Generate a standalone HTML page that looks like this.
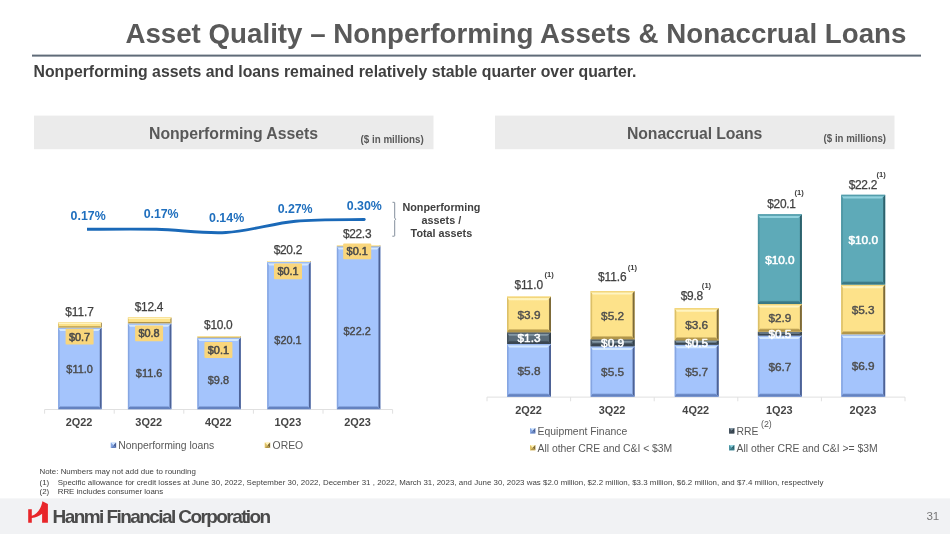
<!DOCTYPE html>
<html lang="en"><head><meta charset="utf-8"><title>Asset Quality – Nonperforming Assets &amp; Nonaccrual Loans</title>
<style>
html,body{margin:0;padding:0;background:#fff;}
body{width:950px;height:534px;overflow:hidden;position:relative;}
svg{position:absolute;left:0;top:0;display:block;font-family:"Liberation Sans",Arial,Helvetica,sans-serif;}
text{white-space:pre;}
</style></head><body>
<svg width="950" height="534" viewBox="0 0 950 534">
<rect width="950" height="534" fill="#fff"/>
<defs>
<linearGradient id="bT" x1="0" y1="0" x2="0" y2="1"><stop offset="0" stop-color="#9cbcf4"/><stop offset="0.3" stop-color="#9cbcf4"/><stop offset="0.55" stop-color="#d3e8ff"/><stop offset="1" stop-color="#d3e8ff"/></linearGradient>
<linearGradient id="bB" x1="0" y1="0" x2="0" y2="1"><stop offset="0" stop-color="#a4c4fc"/><stop offset="0.45" stop-color="#6482bf"/><stop offset="1" stop-color="#6482bf"/></linearGradient>
<linearGradient id="bL" x1="0" y1="0" x2="1" y2="0"><stop offset="0" stop-color="#86a6e2"/><stop offset="0.5" stop-color="#86a6e2"/><stop offset="1" stop-color="#a4c4fc"/></linearGradient>
<linearGradient id="bR" x1="0" y1="0" x2="1" y2="0"><stop offset="0" stop-color="#a4c4fc"/><stop offset="0.3" stop-color="#a4c4fc"/><stop offset="0.6" stop-color="#4d6296"/><stop offset="1" stop-color="#4d6296"/></linearGradient>
<linearGradient id="yT" x1="0" y1="0" x2="0" y2="1"><stop offset="0" stop-color="#f3d67c"/><stop offset="0.3" stop-color="#f3d67c"/><stop offset="0.55" stop-color="#fff4c0"/><stop offset="1" stop-color="#fff4c0"/></linearGradient>
<linearGradient id="yB" x1="0" y1="0" x2="0" y2="1"><stop offset="0" stop-color="#fde28a"/><stop offset="0.45" stop-color="#b3974a"/><stop offset="1" stop-color="#b3974a"/></linearGradient>
<linearGradient id="yL" x1="0" y1="0" x2="1" y2="0"><stop offset="0" stop-color="#dcc068"/><stop offset="0.5" stop-color="#dcc068"/><stop offset="1" stop-color="#fde28a"/></linearGradient>
<linearGradient id="yR" x1="0" y1="0" x2="1" y2="0"><stop offset="0" stop-color="#fde28a"/><stop offset="0.3" stop-color="#fde28a"/><stop offset="0.6" stop-color="#7d6a38"/><stop offset="1" stop-color="#7d6a38"/></linearGradient>
<linearGradient id="sT" x1="0" y1="0" x2="0" y2="1"><stop offset="0" stop-color="#44525e"/><stop offset="0.3" stop-color="#44525e"/><stop offset="0.55" stop-color="#8598a5"/><stop offset="1" stop-color="#8598a5"/></linearGradient>
<linearGradient id="sB" x1="0" y1="0" x2="0" y2="1"><stop offset="0" stop-color="#5a6c79"/><stop offset="0.45" stop-color="#3a4651"/><stop offset="1" stop-color="#3a4651"/></linearGradient>
<linearGradient id="sL" x1="0" y1="0" x2="1" y2="0"><stop offset="0" stop-color="#44525e"/><stop offset="0.5" stop-color="#44525e"/><stop offset="1" stop-color="#5a6c79"/></linearGradient>
<linearGradient id="sR" x1="0" y1="0" x2="1" y2="0"><stop offset="0" stop-color="#5a6c79"/><stop offset="0.3" stop-color="#5a6c79"/><stop offset="0.6" stop-color="#333f49"/><stop offset="1" stop-color="#333f49"/></linearGradient>
<linearGradient id="tT" x1="0" y1="0" x2="0" y2="1"><stop offset="0" stop-color="#549eac"/><stop offset="0.3" stop-color="#549eac"/><stop offset="0.55" stop-color="#92d2de"/><stop offset="1" stop-color="#92d2de"/></linearGradient>
<linearGradient id="tB" x1="0" y1="0" x2="0" y2="1"><stop offset="0" stop-color="#5eaab8"/><stop offset="0.45" stop-color="#3a7884"/><stop offset="1" stop-color="#3a7884"/></linearGradient>
<linearGradient id="tL" x1="0" y1="0" x2="1" y2="0"><stop offset="0" stop-color="#4c94a2"/><stop offset="0.5" stop-color="#4c94a2"/><stop offset="1" stop-color="#5eaab8"/></linearGradient>
<linearGradient id="tR" x1="0" y1="0" x2="1" y2="0"><stop offset="0" stop-color="#5eaab8"/><stop offset="0.3" stop-color="#5eaab8"/><stop offset="0.6" stop-color="#2d616c"/><stop offset="1" stop-color="#2d616c"/></linearGradient>
</defs>
<rect x="0" y="498.4" width="950" height="35.6" fill="#f1f2f4"/>
<text x="125.4" y="43.2" font-size="27.7" font-weight="bold" fill="#595959" textLength="781" lengthAdjust="spacing">Asset Quality – Nonperforming Assets &amp; Nonaccrual Loans</text>
<rect x="32" y="54.6" width="889" height="2" fill="#5f6b78"/>
<text x="33.5" y="76.5" font-size="15.8" font-weight="bold" fill="#404040" textLength="603" lengthAdjust="spacing">Nonperforming assets and loans remained relatively stable quarter over quarter.</text>
<rect x="34" y="115.6" width="399.5" height="33.6" fill="#ebebeb"/>
<rect x="495" y="115.6" width="399.5" height="33.6" fill="#ebebeb"/>
<text x="149" y="138.6" font-size="15.8" font-weight="bold" fill="#595959" textLength="169" lengthAdjust="spacing">Nonperforming Assets</text>
<text x="360.5" y="142.5" font-size="10.7" font-weight="bold" fill="#595959" textLength="63.2" lengthAdjust="spacingAndGlyphs">($ in millions)</text>
<text x="627" y="138.6" font-size="15.8" font-weight="bold" fill="#595959" textLength="135.4" lengthAdjust="spacing">Nonaccrual Loans</text>
<text x="823.6" y="142.3" font-size="10.7" font-weight="bold" fill="#595959" textLength="62.4" lengthAdjust="spacingAndGlyphs">($ in millions)</text>
<path d="M44.6 409.5H392.6" stroke="#e0e0e0" stroke-width="1" fill="none"/>
<path d="M44.6 409.5V413.7" stroke="#e0e0e0" stroke-width="1" fill="none"/>
<path d="M114.2 409.5V413.7" stroke="#e0e0e0" stroke-width="1" fill="none"/>
<path d="M183.8 409.5V413.7" stroke="#e0e0e0" stroke-width="1" fill="none"/>
<path d="M253.4 409.5V413.7" stroke="#e0e0e0" stroke-width="1" fill="none"/>
<path d="M323.0 409.5V413.7" stroke="#e0e0e0" stroke-width="1" fill="none"/>
<path d="M392.6 409.5V413.7" stroke="#e0e0e0" stroke-width="1" fill="none"/>
<rect x="58.15" y="327.60" width="43.50" height="81.60" fill="#a4c4fc"/>
<polygon points="58.15,327.60 60.19,331.00 60.19,405.80 58.15,409.20" fill="url(#bL)"/>
<polygon points="101.65,327.60 98.25,331.00 98.25,405.80 101.65,409.20" fill="url(#bR)"/>
<polygon points="58.15,327.60 101.65,327.60 98.25,331.00 60.19,331.00" fill="url(#bT)"/>
<polygon points="58.15,409.20 101.65,409.20 98.25,405.80 60.19,405.80" fill="url(#bB)"/>
<rect x="58.15" y="322.50" width="43.50" height="5.10" fill="#fde28a"/>
<polygon points="58.15,322.50 59.11,324.10 59.11,326.00 58.15,327.60" fill="url(#yL)"/>
<polygon points="101.65,322.50 100.05,324.10 100.05,326.00 101.65,327.60" fill="url(#yR)"/>
<polygon points="58.15,322.50 101.65,322.50 100.05,324.10 59.11,324.10" fill="url(#yT)"/>
<polygon points="58.15,327.60 101.65,327.60 100.05,326.00 59.11,326.00" fill="url(#yB)"/>
<text x="65.3" y="316.0" font-size="11.9" fill="#404040" textLength="28.6" lengthAdjust="spacing" stroke="#404040" stroke-width="0.25">$11.7</text>
<rect x="65.6" y="328.8" width="28" height="15.8" rx="0.8" fill="#f9d67c"/>
<text x="79.6" y="340.5" font-size="10.9" fill="#4a4a4a" text-anchor="middle" stroke="#4a4a4a" stroke-width="0.55" stroke-linejoin="round">$0.7</text>
<text x="79.6" y="372.7" font-size="10.9" fill="#4a4a4a" text-anchor="middle" stroke="#4a4a4a" stroke-width="0.4" stroke-linejoin="round">$11.0</text>
<text x="79.1" y="426.0" font-size="10.9" font-weight="bold" fill="#454545" text-anchor="middle">2Q22</text>
<rect x="127.90" y="323.30" width="43.50" height="85.90" fill="#a4c4fc"/>
<polygon points="127.90,323.30 129.94,326.70 129.94,405.80 127.90,409.20" fill="url(#bL)"/>
<polygon points="171.40,323.30 168.00,326.70 168.00,405.80 171.40,409.20" fill="url(#bR)"/>
<polygon points="127.90,323.30 171.40,323.30 168.00,326.70 129.94,326.70" fill="url(#bT)"/>
<polygon points="127.90,409.20 171.40,409.20 168.00,405.80 129.94,405.80" fill="url(#bB)"/>
<rect x="127.90" y="317.40" width="43.50" height="5.90" fill="#fde28a"/>
<polygon points="127.90,317.40 128.86,319.00 128.86,321.70 127.90,323.30" fill="url(#yL)"/>
<polygon points="171.40,317.40 169.80,319.00 169.80,321.70 171.40,323.30" fill="url(#yR)"/>
<polygon points="127.90,317.40 171.40,317.40 169.80,319.00 128.86,319.00" fill="url(#yT)"/>
<polygon points="127.90,323.30 171.40,323.30 169.80,321.70 128.86,321.70" fill="url(#yB)"/>
<text x="134.8" y="310.6" font-size="11.9" fill="#404040" textLength="28.6" lengthAdjust="spacing" stroke="#404040" stroke-width="0.25">$12.4</text>
<rect x="135.1" y="325.5" width="28" height="15.8" rx="0.8" fill="#f9d67c"/>
<text x="149.1" y="337.2" font-size="10.9" fill="#4a4a4a" text-anchor="middle" stroke="#4a4a4a" stroke-width="0.55" stroke-linejoin="round">$0.8</text>
<text x="149.1" y="376.5" font-size="10.9" fill="#4a4a4a" text-anchor="middle" stroke="#4a4a4a" stroke-width="0.4" stroke-linejoin="round">$11.6</text>
<text x="148.7" y="426.0" font-size="10.9" font-weight="bold" fill="#454545" text-anchor="middle">3Q22</text>
<rect x="197.35" y="337.60" width="43.50" height="71.60" fill="#a4c4fc"/>
<polygon points="197.35,337.60 199.39,341.00 199.39,405.80 197.35,409.20" fill="url(#bL)"/>
<polygon points="240.85,337.60 237.45,341.00 237.45,405.80 240.85,409.20" fill="url(#bR)"/>
<polygon points="197.35,337.60 240.85,337.60 237.45,341.00 199.39,341.00" fill="url(#bT)"/>
<polygon points="197.35,409.20 240.85,409.20 237.45,405.80 199.39,405.80" fill="url(#bB)"/>
<rect x="197.35" y="336.40" width="43.50" height="1.20" fill="#fde28a"/>
<polygon points="197.35,336.40 198.31,337.00 198.31,337.00 197.35,337.60" fill="url(#yL)"/>
<polygon points="240.85,336.40 239.25,337.00 239.25,337.00 240.85,337.60" fill="url(#yR)"/>
<polygon points="197.35,336.40 240.85,336.40 239.25,337.00 198.31,337.00" fill="url(#yT)"/>
<polygon points="197.35,337.60 240.85,337.60 239.25,337.00 198.31,337.00" fill="url(#yB)"/>
<text x="204.1" y="328.9" font-size="11.9" fill="#404040" textLength="28.6" lengthAdjust="spacing" stroke="#404040" stroke-width="0.25">$10.0</text>
<rect x="204.4" y="342.1" width="28" height="15.8" rx="0.8" fill="#f9d67c"/>
<text x="218.4" y="353.8" font-size="10.9" fill="#4a4a4a" text-anchor="middle" stroke="#4a4a4a" stroke-width="0.55" stroke-linejoin="round">$0.1</text>
<text x="218.4" y="384.3" font-size="10.9" fill="#4a4a4a" text-anchor="middle" stroke="#4a4a4a" stroke-width="0.4" stroke-linejoin="round">$9.8</text>
<text x="218.3" y="426.0" font-size="10.9" font-weight="bold" fill="#454545" text-anchor="middle">4Q22</text>
<rect x="267.20" y="262.00" width="43.50" height="147.20" fill="#a4c4fc"/>
<polygon points="267.20,262.00 269.24,265.40 269.24,405.80 267.20,409.20" fill="url(#bL)"/>
<polygon points="310.70,262.00 307.30,265.40 307.30,405.80 310.70,409.20" fill="url(#bR)"/>
<polygon points="267.20,262.00 310.70,262.00 307.30,265.40 269.24,265.40" fill="url(#bT)"/>
<polygon points="267.20,409.20 310.70,409.20 307.30,405.80 269.24,405.80" fill="url(#bB)"/>
<rect x="267.20" y="261.30" width="43.50" height="0.70" fill="#fde28a"/>
<polygon points="267.20,261.30 268.16,261.65 268.16,261.65 267.20,262.00" fill="url(#yL)"/>
<polygon points="310.70,261.30 309.10,261.65 309.10,261.65 310.70,262.00" fill="url(#yR)"/>
<polygon points="267.20,261.30 310.70,261.30 309.10,261.65 268.16,261.65" fill="url(#yT)"/>
<polygon points="267.20,262.00 310.70,262.00 309.10,261.65 268.16,261.65" fill="url(#yB)"/>
<text x="273.7" y="253.7" font-size="11.9" fill="#404040" textLength="28.6" lengthAdjust="spacing" stroke="#404040" stroke-width="0.25">$20.2</text>
<rect x="274.0" y="263.5" width="28" height="15.8" rx="0.8" fill="#f9d67c"/>
<text x="288.0" y="275.2" font-size="10.9" fill="#4a4a4a" text-anchor="middle" stroke="#4a4a4a" stroke-width="0.55" stroke-linejoin="round">$0.1</text>
<text x="288.0" y="344.4" font-size="10.9" fill="#4a4a4a" text-anchor="middle" stroke="#4a4a4a" stroke-width="0.4" stroke-linejoin="round">$20.1</text>
<text x="287.9" y="426.0" font-size="10.9" font-weight="bold" fill="#454545" text-anchor="middle">1Q23</text>
<rect x="336.85" y="246.20" width="43.50" height="163.00" fill="#a4c4fc"/>
<polygon points="336.85,246.20 338.89,249.60 338.89,405.80 336.85,409.20" fill="url(#bL)"/>
<polygon points="380.35,246.20 376.95,249.60 376.95,405.80 380.35,409.20" fill="url(#bR)"/>
<polygon points="336.85,246.20 380.35,246.20 376.95,249.60 338.89,249.60" fill="url(#bT)"/>
<polygon points="336.85,409.20 380.35,409.20 376.95,405.80 338.89,405.80" fill="url(#bB)"/>
<rect x="336.85" y="245.50" width="43.50" height="0.70" fill="#fde28a"/>
<polygon points="336.85,245.50 337.81,245.85 337.81,245.85 336.85,246.20" fill="url(#yL)"/>
<polygon points="380.35,245.50 378.75,245.85 378.75,245.85 380.35,246.20" fill="url(#yR)"/>
<polygon points="336.85,245.50 380.35,245.50 378.75,245.85 337.81,245.85" fill="url(#yT)"/>
<polygon points="336.85,246.20 380.35,246.20 378.75,245.85 337.81,245.85" fill="url(#yB)"/>
<text x="342.9" y="237.9" font-size="11.9" fill="#404040" textLength="28.6" lengthAdjust="spacing" stroke="#404040" stroke-width="0.25">$22.3</text>
<rect x="343.2" y="243.4" width="28" height="15.8" rx="0.8" fill="#f9d67c"/>
<text x="357.2" y="255.1" font-size="10.9" fill="#4a4a4a" text-anchor="middle" stroke="#4a4a4a" stroke-width="0.55" stroke-linejoin="round">$0.1</text>
<text x="357.2" y="335.1" font-size="10.9" fill="#4a4a4a" text-anchor="middle" stroke="#4a4a4a" stroke-width="0.4" stroke-linejoin="round">$22.2</text>
<text x="357.5" y="426.0" font-size="10.9" font-weight="bold" fill="#454545" text-anchor="middle">2Q23</text>
<path d="M87 229.3C98.6 229.3 133.3 228.8 156.5 229.3C179.7 229.8 202.8 233.8 226 232.5C249.2 231.2 272.5 223.4 295.5 221.2C318.5 219.0 352.8 219.8 364.2 219.5" fill="none" stroke="#1a69b8" stroke-width="2.9" stroke-linecap="butt" stroke-linejoin="round"/>
<circle cx="364.2" cy="219.5" r="1.45" fill="#1a69b8"/>
<text x="70.5" y="219.8" font-size="12.4" font-weight="bold" fill="#1f6fbe" textLength="35.3" lengthAdjust="spacing">0.17%</text>
<text x="143.8" y="217.7" font-size="12.4" font-weight="bold" fill="#1f6fbe" textLength="34.8" lengthAdjust="spacing">0.17%</text>
<text x="209" y="222.4" font-size="12.4" font-weight="bold" fill="#1f6fbe" textLength="35.2" lengthAdjust="spacing">0.14%</text>
<text x="277.8" y="212.8" font-size="12.4" font-weight="bold" fill="#1f6fbe" textLength="34.8" lengthAdjust="spacing">0.27%</text>
<text x="346.8" y="210.0" font-size="12.4" font-weight="bold" fill="#1f6fbe" textLength="35.1" lengthAdjust="spacing">0.30%</text>
<path d="M392.5 202.3H394.2Q394.7 202.3 394.7 202.8V218L395.7 219.2L394.7 220.4V235.7Q394.7 236.2 394.2 236.2H392.3" fill="none" stroke="#6e7b8a" stroke-width="0.85"/>
<text x="441.4" y="211.1" font-size="10.8" font-weight="bold" fill="#404040" text-anchor="middle" textLength="78" lengthAdjust="spacing">Nonperforming</text>
<text x="441.4" y="223.6" font-size="10.8" font-weight="bold" fill="#404040" text-anchor="middle">assets /</text>
<text x="441.4" y="236.6" font-size="10.8" font-weight="bold" fill="#404040" text-anchor="middle">Total assets</text>
<rect x="110.8" y="442.6" width="5.3" height="5.3" fill="#a4c4fc"/>
<polygon points="110.8,442.6 116.1,442.6 113.45,445.25" fill="#d3e8ff"/>
<polygon points="116.1,442.6 116.1,447.90000000000003 113.45,445.25" fill="#4d6296"/>
<polygon points="110.8,447.90000000000003 116.1,447.90000000000003 113.45,445.25" fill="#6482bf"/>
<polygon points="110.8,442.6 110.8,447.90000000000003 113.45,445.25" fill="#86a6e2"/>
<text x="118.2" y="448.8" font-size="10.4" fill="#595959" textLength="96" lengthAdjust="spacing">Nonperforming loans</text>
<rect x="264.8" y="442.6" width="5.3" height="5.3" fill="#fde28a"/>
<polygon points="264.8,442.6 270.1,442.6 267.45,445.25" fill="#fff4c0"/>
<polygon points="270.1,442.6 270.1,447.90000000000003 267.45,445.25" fill="#7d6a38"/>
<polygon points="264.8,447.90000000000003 270.1,447.90000000000003 267.45,445.25" fill="#b3974a"/>
<polygon points="264.8,442.6 264.8,447.90000000000003 267.45,445.25" fill="#dcc068"/>
<text x="272.6" y="448.8" font-size="10.4" fill="#595959" textLength="30.6" lengthAdjust="spacing">OREO</text>
<path d="M487.0 397.09999999999997H905.0" stroke="#e0e0e0" stroke-width="1" fill="none"/>
<path d="M487.0 397.09999999999997V401.3" stroke="#e0e0e0" stroke-width="1" fill="none"/>
<path d="M570.6 397.09999999999997V401.3" stroke="#e0e0e0" stroke-width="1" fill="none"/>
<path d="M654.2 397.09999999999997V401.3" stroke="#e0e0e0" stroke-width="1" fill="none"/>
<path d="M737.8 397.09999999999997V401.3" stroke="#e0e0e0" stroke-width="1" fill="none"/>
<path d="M821.4 397.09999999999997V401.3" stroke="#e0e0e0" stroke-width="1" fill="none"/>
<path d="M905.0 397.09999999999997V401.3" stroke="#e0e0e0" stroke-width="1" fill="none"/>
<rect x="507.00" y="343.90" width="44.00" height="52.80" fill="#a4c4fc"/>
<polygon points="507.00,343.90 509.16,347.50 509.16,393.10 507.00,396.70" fill="url(#bL)"/>
<polygon points="551.00,343.90 547.40,347.50 547.40,393.10 551.00,396.70" fill="url(#bR)"/>
<polygon points="507.00,343.90 551.00,343.90 547.40,347.50 509.16,347.50" fill="url(#bT)"/>
<polygon points="507.00,396.70 551.00,396.70 547.40,393.10 509.16,393.10" fill="url(#bB)"/>
<rect x="507.00" y="332.20" width="44.00" height="11.70" fill="#5a6c79"/>
<polygon points="507.00,332.20 509.16,335.80 509.16,340.30 507.00,343.90" fill="url(#sL)"/>
<polygon points="551.00,332.20 547.40,335.80 547.40,340.30 551.00,343.90" fill="url(#sR)"/>
<polygon points="507.00,332.20 551.00,332.20 547.40,335.80 509.16,335.80" fill="url(#sT)"/>
<polygon points="507.00,343.90 551.00,343.90 547.40,340.30 509.16,340.30" fill="url(#sB)"/>
<rect x="507.00" y="296.60" width="44.00" height="35.60" fill="#fde28a"/>
<polygon points="507.00,296.60 509.16,300.20 509.16,328.60 507.00,332.20" fill="url(#yL)"/>
<polygon points="551.00,296.60 547.40,300.20 547.40,328.60 551.00,332.20" fill="url(#yR)"/>
<polygon points="507.00,296.60 551.00,296.60 547.40,300.20 509.16,300.20" fill="url(#yT)"/>
<polygon points="507.00,332.20 551.00,332.20 547.40,328.60 509.16,328.60" fill="url(#yB)"/>
<text x="529.0" y="375.1" font-size="11.8" fill="#4d4d4d" text-anchor="middle" stroke="#4d4d4d" stroke-width="0.4" stroke-linejoin="round">$5.8</text>
<text x="529.0" y="342.4" font-size="11.8" fill="#fff" text-anchor="middle" stroke="#fff" stroke-width="0.55" stroke-linejoin="round">$1.3</text>
<text x="529.0" y="318.8" font-size="11.8" fill="#4d4d4d" text-anchor="middle" stroke="#4d4d4d" stroke-width="0.4" stroke-linejoin="round">$3.9</text>
<text x="514.4" y="289.2" font-size="11.9" fill="#404040" textLength="28.6" lengthAdjust="spacing" stroke="#404040" stroke-width="0.25">$11.0</text>
<text x="549.2" y="276.8" font-size="7.6" font-weight="bold" fill="#404040" text-anchor="middle">(1)</text>
<text x="528.5" y="414.4" font-size="10.9" font-weight="bold" fill="#454545" text-anchor="middle">2Q22</text>
<rect x="590.60" y="346.30" width="44.00" height="50.40" fill="#a4c4fc"/>
<polygon points="590.60,346.30 592.76,349.90 592.76,393.10 590.60,396.70" fill="url(#bL)"/>
<polygon points="634.60,346.30 631.00,349.90 631.00,393.10 634.60,396.70" fill="url(#bR)"/>
<polygon points="590.60,346.30 634.60,346.30 631.00,349.90 592.76,349.90" fill="url(#bT)"/>
<polygon points="590.60,396.70 634.60,396.70 631.00,393.10 592.76,393.10" fill="url(#bB)"/>
<rect x="590.60" y="339.20" width="44.00" height="7.10" fill="#5a6c79"/>
<polygon points="590.60,339.20 592.76,342.75 592.76,342.75 590.60,346.30" fill="url(#sL)"/>
<polygon points="634.60,339.20 631.00,342.75 631.00,342.75 634.60,346.30" fill="url(#sR)"/>
<polygon points="590.60,339.20 634.60,339.20 631.00,342.75 592.76,342.75" fill="url(#sT)"/>
<polygon points="590.60,346.30 634.60,346.30 631.00,342.75 592.76,342.75" fill="url(#sB)"/>
<rect x="590.60" y="291.00" width="44.00" height="48.20" fill="#fde28a"/>
<polygon points="590.60,291.00 592.76,294.60 592.76,335.60 590.60,339.20" fill="url(#yL)"/>
<polygon points="634.60,291.00 631.00,294.60 631.00,335.60 634.60,339.20" fill="url(#yR)"/>
<polygon points="590.60,291.00 634.60,291.00 631.00,294.60 592.76,294.60" fill="url(#yT)"/>
<polygon points="590.60,339.20 634.60,339.20 631.00,335.60 592.76,335.60" fill="url(#yB)"/>
<text x="612.6" y="376.3" font-size="11.8" fill="#4d4d4d" text-anchor="middle" stroke="#4d4d4d" stroke-width="0.4" stroke-linejoin="round">$5.5</text>
<text x="612.6" y="347.1" font-size="11.8" fill="#fff" text-anchor="middle" stroke="#fff" stroke-width="0.55" stroke-linejoin="round">$0.9</text>
<text x="612.6" y="319.5" font-size="11.8" fill="#4d4d4d" text-anchor="middle" stroke="#4d4d4d" stroke-width="0.4" stroke-linejoin="round">$5.2</text>
<text x="598.0" y="280.9" font-size="11.9" fill="#404040" textLength="28.6" lengthAdjust="spacing" stroke="#404040" stroke-width="0.25">$11.6</text>
<text x="632.3" y="269.7" font-size="7.6" font-weight="bold" fill="#404040" text-anchor="middle">(1)</text>
<text x="612.1" y="414.4" font-size="10.9" font-weight="bold" fill="#454545" text-anchor="middle">3Q22</text>
<rect x="674.70" y="344.70" width="44.00" height="52.00" fill="#a4c4fc"/>
<polygon points="674.70,344.70 676.86,348.30 676.86,393.10 674.70,396.70" fill="url(#bL)"/>
<polygon points="718.70,344.70 715.10,348.30 715.10,393.10 718.70,396.70" fill="url(#bR)"/>
<polygon points="674.70,344.70 718.70,344.70 715.10,348.30 676.86,348.30" fill="url(#bT)"/>
<polygon points="674.70,396.70 718.70,396.70 715.10,393.10 676.86,393.10" fill="url(#bB)"/>
<rect x="674.70" y="340.30" width="44.00" height="4.40" fill="#5a6c79"/>
<polygon points="674.70,340.30 676.86,342.50 676.86,342.50 674.70,344.70" fill="url(#sL)"/>
<polygon points="718.70,340.30 715.10,342.50 715.10,342.50 718.70,344.70" fill="url(#sR)"/>
<polygon points="674.70,340.30 718.70,340.30 715.10,342.50 676.86,342.50" fill="url(#sT)"/>
<polygon points="674.70,344.70 718.70,344.70 715.10,342.50 676.86,342.50" fill="url(#sB)"/>
<rect x="674.70" y="308.10" width="44.00" height="32.20" fill="#fde28a"/>
<polygon points="674.70,308.10 676.86,311.70 676.86,336.70 674.70,340.30" fill="url(#yL)"/>
<polygon points="718.70,308.10 715.10,311.70 715.10,336.70 718.70,340.30" fill="url(#yR)"/>
<polygon points="674.70,308.10 718.70,308.10 715.10,311.70 676.86,311.70" fill="url(#yT)"/>
<polygon points="674.70,340.30 718.70,340.30 715.10,336.70 676.86,336.70" fill="url(#yB)"/>
<text x="696.7" y="375.5" font-size="11.8" fill="#4d4d4d" text-anchor="middle" stroke="#4d4d4d" stroke-width="0.4" stroke-linejoin="round">$5.7</text>
<text x="696.7" y="346.9" font-size="11.8" fill="#fff" text-anchor="middle" stroke="#fff" stroke-width="0.55" stroke-linejoin="round">$0.5</text>
<text x="696.7" y="328.6" font-size="11.8" fill="#4d4d4d" text-anchor="middle" stroke="#4d4d4d" stroke-width="0.4" stroke-linejoin="round">$3.6</text>
<text x="680.8" y="299.6" font-size="11.9" fill="#404040" textLength="22.2" lengthAdjust="spacing" stroke="#404040" stroke-width="0.25">$9.8</text>
<text x="706.5" y="288.1" font-size="7.6" font-weight="bold" fill="#404040" text-anchor="middle">(1)</text>
<text x="695.7" y="414.4" font-size="10.9" font-weight="bold" fill="#454545" text-anchor="middle">4Q22</text>
<rect x="757.90" y="335.40" width="44.00" height="61.30" fill="#a4c4fc"/>
<polygon points="757.90,335.40 760.06,339.00 760.06,393.10 757.90,396.70" fill="url(#bL)"/>
<polygon points="801.90,335.40 798.30,339.00 798.30,393.10 801.90,396.70" fill="url(#bR)"/>
<polygon points="757.90,335.40 801.90,335.40 798.30,339.00 760.06,339.00" fill="url(#bT)"/>
<polygon points="757.90,396.70 801.90,396.70 798.30,393.10 760.06,393.10" fill="url(#bB)"/>
<rect x="757.90" y="331.70" width="44.00" height="3.70" fill="#5a6c79"/>
<polygon points="757.90,331.70 760.06,333.55 760.06,333.55 757.90,335.40" fill="url(#sL)"/>
<polygon points="801.90,331.70 798.30,333.55 798.30,333.55 801.90,335.40" fill="url(#sR)"/>
<polygon points="757.90,331.70 801.90,331.70 798.30,333.55 760.06,333.55" fill="url(#sT)"/>
<polygon points="757.90,335.40 801.90,335.40 798.30,333.55 760.06,333.55" fill="url(#sB)"/>
<rect x="757.90" y="303.90" width="44.00" height="27.80" fill="#fde28a"/>
<polygon points="757.90,303.90 760.06,307.50 760.06,328.10 757.90,331.70" fill="url(#yL)"/>
<polygon points="801.90,303.90 798.30,307.50 798.30,328.10 801.90,331.70" fill="url(#yR)"/>
<polygon points="757.90,303.90 801.90,303.90 798.30,307.50 760.06,307.50" fill="url(#yT)"/>
<polygon points="757.90,331.70 801.90,331.70 798.30,328.10 760.06,328.10" fill="url(#yB)"/>
<rect x="757.90" y="214.30" width="44.00" height="89.60" fill="#5eaab8"/>
<polygon points="757.90,214.30 760.06,217.90 760.06,300.30 757.90,303.90" fill="url(#tL)"/>
<polygon points="801.90,214.30 798.30,217.90 798.30,300.30 801.90,303.90" fill="url(#tR)"/>
<polygon points="757.90,214.30 801.90,214.30 798.30,217.90 760.06,217.90" fill="url(#tT)"/>
<polygon points="757.90,303.90 801.90,303.90 798.30,300.30 760.06,300.30" fill="url(#tB)"/>
<text x="779.9" y="370.8" font-size="11.8" fill="#4d4d4d" text-anchor="middle" stroke="#4d4d4d" stroke-width="0.4" stroke-linejoin="round">$6.7</text>
<text x="779.9" y="337.9" font-size="11.8" fill="#fff" text-anchor="middle" stroke="#fff" stroke-width="0.55" stroke-linejoin="round">$0.5</text>
<text x="779.9" y="322.2" font-size="11.8" fill="#4d4d4d" text-anchor="middle" stroke="#4d4d4d" stroke-width="0.4" stroke-linejoin="round">$2.9</text>
<text x="779.9" y="263.5" font-size="11.8" fill="#fff" text-anchor="middle" stroke="#fff" stroke-width="0.55" stroke-linejoin="round">$10.0</text>
<text x="767.3" y="207.8" font-size="11.9" fill="#404040" textLength="28.6" lengthAdjust="spacing" stroke="#404040" stroke-width="0.25">$20.1</text>
<text x="799.2" y="195.2" font-size="7.6" font-weight="bold" fill="#404040" text-anchor="middle">(1)</text>
<text x="779.3" y="414.4" font-size="10.9" font-weight="bold" fill="#454545" text-anchor="middle">1Q23</text>
<rect x="841.20" y="334.30" width="44.00" height="62.40" fill="#a4c4fc"/>
<polygon points="841.20,334.30 843.36,337.90 843.36,393.10 841.20,396.70" fill="url(#bL)"/>
<polygon points="885.20,334.30 881.60,337.90 881.60,393.10 885.20,396.70" fill="url(#bR)"/>
<polygon points="841.20,334.30 885.20,334.30 881.60,337.90 843.36,337.90" fill="url(#bT)"/>
<polygon points="841.20,396.70 885.20,396.70 881.60,393.10 843.36,393.10" fill="url(#bB)"/>
<rect x="841.20" y="284.60" width="44.00" height="49.70" fill="#fde28a"/>
<polygon points="841.20,284.60 843.36,288.20 843.36,330.70 841.20,334.30" fill="url(#yL)"/>
<polygon points="885.20,284.60 881.60,288.20 881.60,330.70 885.20,334.30" fill="url(#yR)"/>
<polygon points="841.20,284.60 885.20,284.60 881.60,288.20 843.36,288.20" fill="url(#yT)"/>
<polygon points="841.20,334.30 885.20,334.30 881.60,330.70 843.36,330.70" fill="url(#yB)"/>
<rect x="841.20" y="194.80" width="44.00" height="89.80" fill="#5eaab8"/>
<polygon points="841.20,194.80 843.36,198.40 843.36,281.00 841.20,284.60" fill="url(#tL)"/>
<polygon points="885.20,194.80 881.60,198.40 881.60,281.00 885.20,284.60" fill="url(#tR)"/>
<polygon points="841.20,194.80 885.20,194.80 881.60,198.40 843.36,198.40" fill="url(#tT)"/>
<polygon points="841.20,284.60 885.20,284.60 881.60,281.00 843.36,281.00" fill="url(#tB)"/>
<text x="863.2" y="370.3" font-size="11.8" fill="#4d4d4d" text-anchor="middle" stroke="#4d4d4d" stroke-width="0.4" stroke-linejoin="round">$6.9</text>
<text x="863.2" y="313.9" font-size="11.8" fill="#4d4d4d" text-anchor="middle" stroke="#4d4d4d" stroke-width="0.4" stroke-linejoin="round">$5.3</text>
<text x="863.2" y="244.1" font-size="11.8" fill="#fff" text-anchor="middle" stroke="#fff" stroke-width="0.55" stroke-linejoin="round">$10.0</text>
<text x="848.7" y="188.5" font-size="11.9" fill="#404040" textLength="28.6" lengthAdjust="spacing" stroke="#404040" stroke-width="0.25">$22.2</text>
<text x="881.2" y="177.1" font-size="7.6" font-weight="bold" fill="#404040" text-anchor="middle">(1)</text>
<text x="862.9" y="414.4" font-size="10.9" font-weight="bold" fill="#454545" text-anchor="middle">2Q23</text>
<rect x="530" y="428.1" width="5.3" height="5.3" fill="#a4c4fc"/>
<polygon points="530,428.1 535.3,428.1 532.65,430.75" fill="#d3e8ff"/>
<polygon points="535.3,428.1 535.3,433.40000000000003 532.65,430.75" fill="#4d6296"/>
<polygon points="530,433.40000000000003 535.3,433.40000000000003 532.65,430.75" fill="#6482bf"/>
<polygon points="530,428.1 530,433.40000000000003 532.65,430.75" fill="#86a6e2"/>
<text x="537.6" y="434.5" font-size="10.4" fill="#595959" textLength="89.6" lengthAdjust="spacing">Equipment Finance</text>
<rect x="729" y="428.1" width="5.3" height="5.3" fill="#5a6c79"/>
<polygon points="729,428.1 734.3,428.1 731.65,430.75" fill="#8598a5"/>
<polygon points="734.3,428.1 734.3,433.40000000000003 731.65,430.75" fill="#333f49"/>
<polygon points="729,433.40000000000003 734.3,433.40000000000003 731.65,430.75" fill="#3a4651"/>
<polygon points="729,428.1 729,433.40000000000003 731.65,430.75" fill="#44525e"/>
<text x="736.6" y="434.6" font-size="10.4" fill="#595959">RRE</text>
<text x="761" y="426.8" font-size="8.8" fill="#595959">(2)</text>
<rect x="530" y="445" width="5.3" height="5.3" fill="#fde28a"/>
<polygon points="530,445 535.3,445 532.65,447.65" fill="#fff4c0"/>
<polygon points="535.3,445 535.3,450.3 532.65,447.65" fill="#7d6a38"/>
<polygon points="530,450.3 535.3,450.3 532.65,447.65" fill="#b3974a"/>
<polygon points="530,445 530,450.3 532.65,447.65" fill="#dcc068"/>
<text x="537.6" y="451.6" font-size="10.4" fill="#595959" textLength="134.6" lengthAdjust="spacing">All other CRE and C&amp;I &lt; $3M</text>
<rect x="729" y="445" width="5.3" height="5.3" fill="#5eaab8"/>
<polygon points="729,445 734.3,445 731.65,447.65" fill="#92d2de"/>
<polygon points="734.3,445 734.3,450.3 731.65,447.65" fill="#2d616c"/>
<polygon points="729,450.3 734.3,450.3 731.65,447.65" fill="#3a7884"/>
<polygon points="729,445 729,450.3 731.65,447.65" fill="#4c94a2"/>
<text x="736.6" y="451.7" font-size="10.4" fill="#595959" textLength="141" lengthAdjust="spacing">All other CRE and C&amp;I &gt;= $3M</text>
<text x="39.5" y="474.3" font-size="7.9" fill="#404040" textLength="156.3" lengthAdjust="spacing">Note: Numbers may not add due to rounding</text>
<text x="39.5" y="484.5" font-size="7.9" fill="#404040">(1)</text>
<text x="57.7" y="484.5" font-size="7.9" fill="#404040" textLength="765.7" lengthAdjust="spacing">Specific allowance for credit losses at June 30, 2022, September 30, 2022, December 31 , 2022, March 31, 2023, and June 30, 2023 was $2.0 million, $2.2 million, $3.3 million, $6.2 million, and $7.4 million, respectively</text>
<text x="39.5" y="494.3" font-size="7.9" fill="#404040">(2)</text>
<text x="57.7" y="494.3" font-size="7.9" fill="#404040" textLength="105.5" lengthAdjust="spacing">RRE includes consumer loans</text>
<g fill="#e8262a"><path d="M28.2 509.2H31.8V515.7C35.5 514.8 38.5 512 40.5 507.5C41.5 505.3 42.1 503 42.4 501.2L47.9 504.1V522.8H42.1V513.8C39.5 516.2 36 517.6 31.8 517.9V522.8H28.2Z"/></g>
<text x="52.6" y="522.6" font-size="19" font-weight="bold" fill="#4a4a4a" textLength="218.6" lengthAdjust="spacing">Hanmi Financial Corporation</text>
<text x="926.4" y="519.9" font-size="11.6" fill="#777">31</text>
</svg></body></html>
